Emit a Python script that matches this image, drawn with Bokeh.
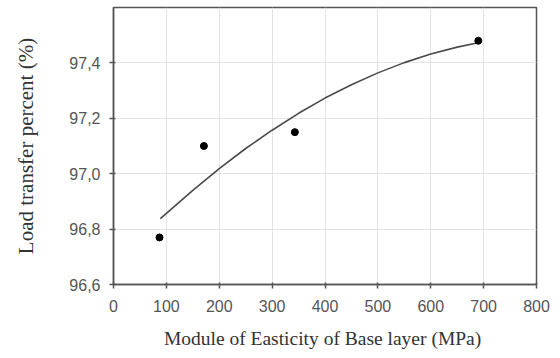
from bokeh.plotting import figure
from bokeh.models import FixedTicker, CustomJSTickFormatter, Range1d
from bokeh.embed import file_html
from bokeh.resources import INLINE

# measured data points
modulus = [87, 171, 343, 690]
load_transfer = [96.77, 97.10, 97.15, 97.48]

# trendline
trend_x = [88.6, 150, 200, 250, 300, 350, 400, 450, 500, 550, 600, 650, 689.6]
trend_y = [96.838, 96.940, 97.018, 97.091, 97.157, 97.218, 97.273, 97.321, 97.364, 97.401, 97.432, 97.457, 97.473]

x_ticks = [0, 100, 200, 300, 400, 500, 600, 700, 800]
y_ticks = [96.6, 96.8, 97.0, 97.2, 97.4]

x_title = "Module of Easticity  of Base layer (MPa)"
y_title = "Load transfer percent (%)"

p = figure(width=560, height=358, output_backend="svg", toolbar_location=None,
           x_range=Range1d(0, 800), y_range=Range1d(96.6, 97.6),
           min_border_left=113, min_border_right=24, min_border_top=7, min_border_bottom=74)

p.outline_line_color = "#555555"
p.outline_line_width = 1.5
p.background_fill_color = "white"
p.border_fill_color = "white"

for ax in (p.xaxis[0], p.yaxis[0]):
    ax.axis_line_color = "#555555"
    ax.axis_line_width = 1.5
    ax.major_tick_line_color = "#555555"
    ax.major_tick_line_width = 1.5
    ax.major_tick_out = 4
    ax.major_tick_in = 2
    ax.minor_tick_line_color = None
    ax.major_label_text_font = "Liberation Sans"
    ax.major_label_text_font_size = "16px"
    ax.major_label_text_color = "#555555"
    ax.axis_label_text_font = "'Liberation Serif', 'Times New Roman', serif"
    ax.axis_label_text_font_style = "normal"
    ax.axis_label_text_color = "#333333"

p.xaxis[0].axis_label_text_font_size = "19.5px"
p.yaxis[0].axis_label_text_font_size = "21px"

p.xaxis[0].ticker = FixedTicker(ticks=x_ticks)
p.yaxis[0].ticker = FixedTicker(ticks=y_ticks)
p.yaxis[0].formatter = CustomJSTickFormatter(code="return tick.toFixed(1).replace('.', ',');")
p.xaxis[0].axis_label = x_title
p.yaxis[0].axis_label = y_title
p.xaxis[0].major_label_standoff = 11
p.yaxis[0].major_label_standoff = 9
p.xaxis[0].axis_label_standoff = 13
p.yaxis[0].axis_label_standoff = 28

p.xgrid.grid_line_color = "#e3e3e3"
p.ygrid.grid_line_color = "#e3e3e3"
p.xgrid.ticker = FixedTicker(ticks=x_ticks)
p.ygrid.ticker = FixedTicker(ticks=y_ticks)

p.line(trend_x, trend_y, line_color="#4a4a4a", line_width=1.6)
p.scatter(modulus, load_transfer, size=7, fill_color="black", line_color="black")

open("out.html", "w").write(file_html(p, INLINE))
